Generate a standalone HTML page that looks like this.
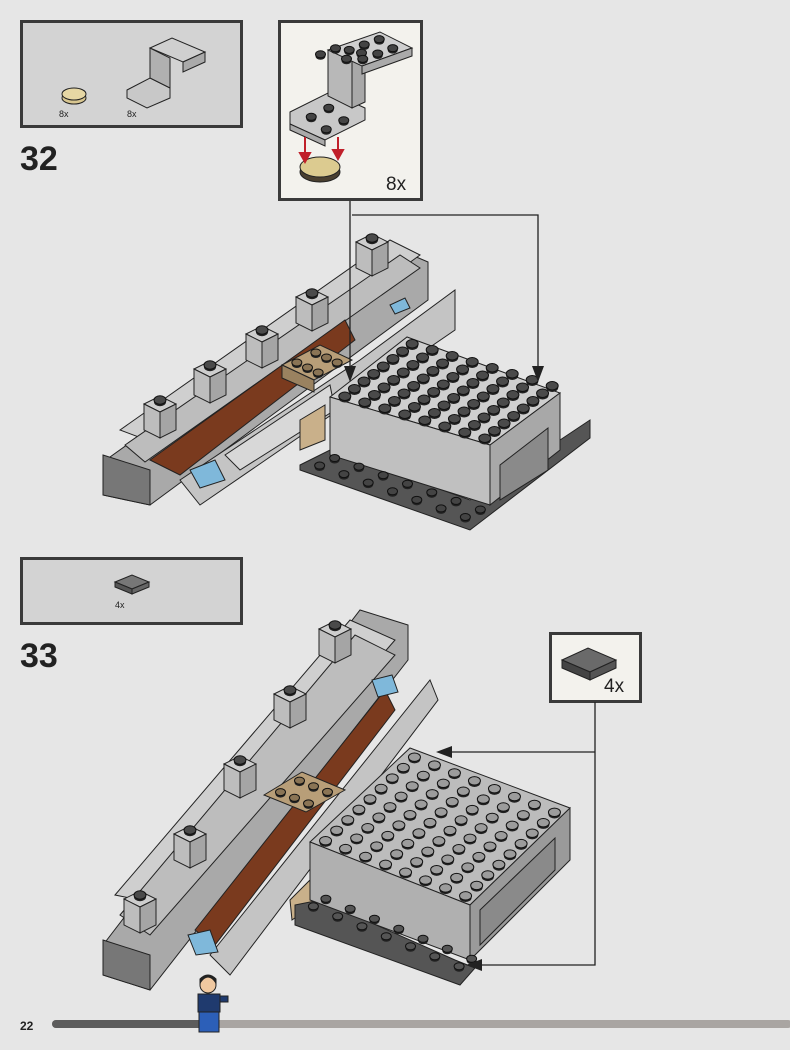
<!DOCTYPE html>
<html><head><meta charset="utf-8"><style>
body{margin:0;background:#e6e6e6;width:790px;height:1050px;overflow:hidden;font-family:"Liberation Sans",sans-serif}
svg{position:absolute;left:0;top:0}
</style></head><body>
<svg id="s" width="790" height="1050" viewBox="0 0 790 1050" xmlns="http://www.w3.org/2000/svg">
<g stroke="#2a2a2a" stroke-width="1">
<rect x="21.5" y="21.5" width="220" height="105" fill="#d3d3d3" stroke="#3a3a3a" stroke-width="3"/>
<rect x="279.5" y="21.5" width="142" height="178" fill="#f3f2ed" stroke="#3a3a3a" stroke-width="3"/>
<rect x="21.5" y="558.5" width="220" height="65" fill="#d3d3d3" stroke="#3a3a3a" stroke-width="3"/>
<rect x="550.5" y="633.5" width="90" height="68" fill="#f3f2ed" stroke="#3a3a3a" stroke-width="3"/>
</g>
<g font-family="Liberation Sans" fill="#222">
<text x="20" y="170" font-size="34" font-weight="bold">32</text>
<text x="20" y="667" font-size="34" font-weight="bold">33</text>
<text x="59" y="117" font-size="9">8x</text>
<text x="127" y="117" font-size="9">8x</text>
<text x="386" y="190" font-size="19">8x</text>
<text x="115" y="608" font-size="9">4x</text>
<text x="604" y="692" font-size="19">4x</text>
<text x="20" y="1030" font-size="12" font-weight="bold">22</text>
</g>
<rect x="52" y="1020" width="740" height="8" rx="4" fill="#a9a5a2"/>
<rect x="52" y="1020" width="160" height="8" rx="4" fill="#5c5c5c"/>
<g stroke="#222" stroke-width="1">
<ellipse cx="74" cy="98" rx="12" ry="6" fill="#d8c690"/>
<ellipse cx="74" cy="94" rx="12" ry="6" fill="#e6d7a4"/>
<polygon points="127,90 150,78 170,88 170,98 147,108 127,98" fill="#c8c8c8"/>
<polygon points="150,48 150,78 170,88 170,58" fill="#b0b0b0"/>
<polygon points="150,48 172,38 205,52 183,62" fill="#cfcfcf"/>
<polygon points="183,62 205,52 205,62 183,72" fill="#aaa"/>
<polygon points="115,582 132,575 149,582 132,589" fill="#777"/>
<polygon points="115,582 132,589 132,594 115,587" fill="#555"/>
<polygon points="132,589 149,582 149,587 132,594" fill="#666"/>
<polygon points="290,112 330,92 365,108 365,120 325,140 290,124" fill="#c8c8c8"/>
<polygon points="290,124 325,140 325,146 290,130" fill="#aaa"/>
<polygon points="328,50 328,96 352,108 352,60" fill="#b8b8b8"/>
<polygon points="352,60 352,108 365,102 365,56" fill="#a8a8a8"/>
<polygon points="328,50 380,32 412,48 362,66" fill="#cfcfcf"/>
<polygon points="362,66 412,48 412,56 362,74" fill="#aaa"/>
<ellipse cx="320" cy="172" rx="20" ry="10" fill="#4a4030"/>
<ellipse cx="320" cy="167" rx="20" ry="10" fill="#dccb90"/>
<polygon points="562,660 588,648 616,660 590,672" fill="#6a6a6a"/>
<polygon points="562,660 590,672 590,680 562,668" fill="#444"/>
<polygon points="590,672 616,660 616,668 590,680" fill="#555"/>
</g>
<g stroke="#c0202a" stroke-width="2" fill="#c0202a">
<line x1="305" y1="137" x2="305" y2="158"/><polygon points="300,153 310,153 305,162"/>
<line x1="338" y1="137" x2="338" y2="155"/><polygon points="333,150 343,150 338,159"/>
</g>
<g id="models" stroke="#222" stroke-width="1">
<!-- model 32 left rail -->
<polygon points="103,462 400,250 428,262 428,300 150,505 103,495" fill="#a9a9a9"/>
<polygon points="103,455 150,470 150,505 103,495" fill="#777"/>
<polygon points="120,430 390,240 420,255 160,445" fill="#cfcfcf"/>
<polygon points="125,445 400,255 420,268 145,462" fill="#bdbdbd"/>
<polygon points="150,460 345,320 355,340 180,475" fill="#7a3a1e"/>
<polygon points="180,480 360,360 455,290 455,330 200,505" fill="#c4c4c4"/>
<polygon points="225,455 330,385 335,410 240,470" fill="#d8d8d8"/>
<polygon points="300,420 325,405 325,440 300,450" fill="#c9b08a"/>
<polygon points="282,365 320,345 352,360 314,380" fill="#b89e78"/>
<polygon points="282,365 314,380 314,392 282,378" fill="#9a8260"/>
<polygon points="190,470 215,460 225,480 200,488" fill="#7fb8da"/>
<polygon points="390,305 405,298 410,308 395,314" fill="#7fb8da"/>
<!-- model 32 right block -->
<polygon points="300,465 330,450 470,500 590,420 590,438 470,530 300,470" fill="#555"/>
<polygon points="330,397 407,337 560,393 490,445" fill="#cfcfcf"/>
<polygon points="330,397 490,445 490,505 330,455" fill="#c0c0c0"/>
<polygon points="490,445 560,393 560,450 490,505" fill="#a8a8a8"/>
<polygon points="500,465 548,428 548,470 500,500" fill="#8a8a8a"/>
<!-- model 33 rail -->
<polygon points="103,945 360,610 408,625 408,660 150,990 103,975" fill="#a9a9a9"/>
<polygon points="103,940 150,955 150,990 103,975" fill="#777"/>
<polygon points="115,895 350,620 395,640 165,905" fill="#cfcfcf"/>
<polygon points="120,915 355,635 395,655 150,935" fill="#bdbdbd"/>
<polygon points="195,930 385,690 395,710 215,945" fill="#7a3a1e"/>
<polygon points="210,955 430,680 438,700 230,975" fill="#c4c4c4"/>
<polygon points="290,900 320,870 320,900 292,920" fill="#c9b08a"/>
<polygon points="264,795 302,772 345,790 306,812" fill="#b89e78"/>
<polygon points="188,935 210,930 218,952 196,955" fill="#7fb8da"/>
<polygon points="372,680 392,675 398,692 378,697" fill="#7fb8da"/>
<!-- model 33 block -->
<polygon points="295,905 320,900 455,960 475,968 460,985 295,925" fill="#555"/>
<polygon points="310,842 410,748 570,808 470,905" fill="#bcbcbc"/>
<polygon points="310,842 470,905 470,960 310,900" fill="#b0b0b0"/>
<polygon points="470,905 570,808 570,860 470,960" fill="#9a9a9a"/>
<polygon points="480,910 555,838 555,870 480,945" fill="#8a8a8a"/>
</g>
<g id="cubes" stroke="#222" stroke-width="1"></g>
<g id="studs"></g>
<g stroke="#222" stroke-width="1.3" fill="none">
<line x1="350" y1="201" x2="350" y2="370"/>
<polyline points="352,215 538,215 538,368"/>
<polyline points="595,702 595,965 480,965"/>
<line x1="595" y1="752" x2="450" y2="752"/>
</g>
<g fill="#222">
<polygon points="344,366 356,366 350,382"/>
<polygon points="532,366 544,366 538,382"/>
<polygon points="452,746 452,758 436,752"/>
<polygon points="482,959 482,971 466,965"/>
</g>
<g stroke="#222" stroke-width="1">
<circle cx="208" cy="985" r="8" fill="#f0c8a0"/>
<path d="M200,983 q8,-12 16,0 v-4 q-8,-8 -16,0z" fill="#222"/>
<rect x="198" y="994" width="22" height="18" fill="#1f3a6e"/>
<rect x="220" y="996" width="8" height="6" fill="#1f3a6e"/>
<rect x="199" y="1012" width="20" height="20" fill="#2c5fb8"/>
</g>
</svg>
<script>
var g=document.getElementById('studs'),cg=document.getElementById('cubes'),ns='http://www.w3.org/2000/svg';
function el(par,tag,a){var e=document.createElementNS(ns,tag);for(var k in a)e.setAttribute(k,a[k]);par.appendChild(e);return e;}
function stud(x,y,r,f){el(g,'ellipse',{cx:x,cy:y+2,rx:r,ry:r*0.7,fill:'#222'});el(g,'ellipse',{cx:x,cy:y,rx:r,ry:r*0.7,fill:f,stroke:'#111'});}
function grid(p0,pu,pv,nu,nv,r,f){for(var i=0;i<nu;i++)for(var j=0;j<nv;j++){var a=(i+0.5)/nu,b=(j+0.5)/nv;stud(p0[0]+a*(pu[0]-p0[0])+b*(pv[0]-p0[0]),p0[1]+a*(pu[1]-p0[1])+b*(pv[1]-p0[1]),r,f);}}
function cube(x,y){var w=16,h=8,H=26;
el(cg,'polygon',{points:[x-w,y,x,y-h,x+w,y,x,y+h].join(','),fill:'#cdcdcd'});
el(cg,'polygon',{points:[x-w,y,x,y+h,x,y+h+H,x-w,y+H].join(','),fill:'#bdbdbd'});
el(cg,'polygon',{points:[x,y+h,x+w,y,x+w,y+H,x,y+h+H].join(','),fill:'#a5a5a5'});}
var t=[[160,400],[210,365],[262,330],[312,293],[372,238],[140,895],[190,830],[240,760],[290,690],[335,625]];
t.forEach(function(p){cube(p[0],p[1]+4)});
grid([330,397],[407,337],[490,445],8,8,6,'#4a4a4a');
grid([310,842],[410,748],[470,905],9,8,6,'#9c9c9c');
grid([300,465],[330,450],[470,525],2,7,5,'#444');
grid([295,905],[320,890],[465,975],2,7,5,'#555');
grid([282,365],[320,345],[314,380],2,3,5,'#8a7455');
grid([264,795],[302,772],[306,812],2,3,5,'#8a7455');
t.forEach(function(p){stud(p[0],p[1],6,'#4a4a4a')});
grid([300,55],[330,43],[352,64],2,2,5,'#444');
grid([335,48],[380,32],[362,66],3,2,5,'#444');
grid([295,115],[330,97],[325,140],2,2,5,'#444');
</script>
</body></html>
